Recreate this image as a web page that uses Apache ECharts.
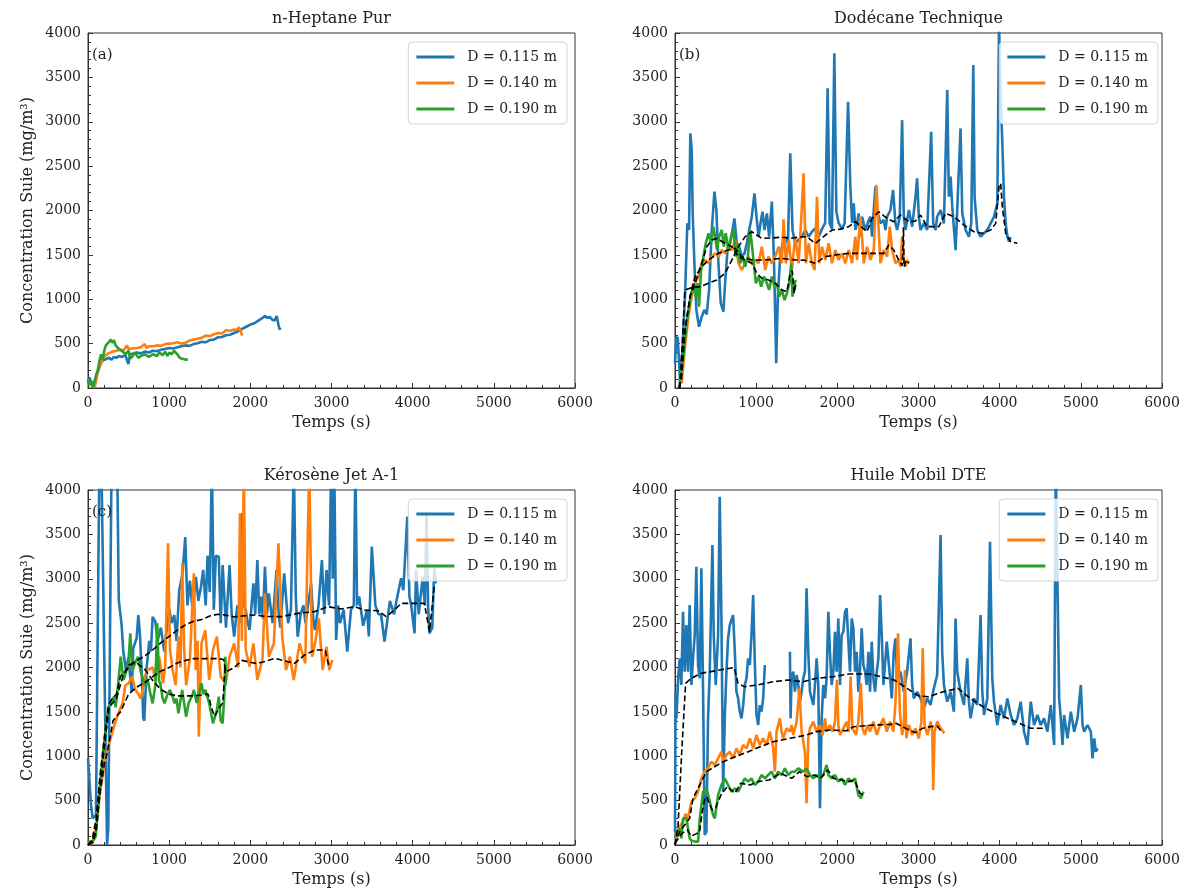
<!DOCTYPE html>
<html><head><meta charset="utf-8">
<script src="https://cdn.jsdelivr.net/npm/echarts@6/dist/echarts.min.js"></script>
<style>html,body{margin:0;padding:0;background:#fff}#c{width:1186px;height:891px}</style>
</head><body><div id="c"></div><script>
// ---------- labels ----------
const TITLES = ['n-Heptane Pur', 'Dodécane Technique', 'Kérosène Jet A-1', 'Huile Mobil DTE'];
const TAGS = ['(a)', '(b)', '(c)', ''];
const NAMES = ['D = 0.115 m', 'D = 0.140 m', 'D = 0.190 m'];
const X_TICKS = [0, 1000, 2000, 3000, 4000, 5000, 6000];
const Y_TICKS = [0, 500, 1000, 1500, 2000, 2500, 3000, 3500, 4000];

// ---------- (a) n-Heptane ----------
const A_115 = [[0,60],[20,120],[40,40],[60,20],[80,60],[100,120],[120,180],[140,230],[160,280],[180,310],[200,300],[230,330],[260,340],[290,320],[320,350],[350,340],[380,360],[420,350],[460,370],[497,270],[520,380],[560,390],[600,400],[650,390],[700,410],[750,400],[800,420],[850,415],[900,430],[950,440],[1000,450],[1050,445],[1100,460],[1150,470],[1200,480],[1250,475],[1300,495],[1350,505],[1400,520],[1450,515],[1500,540],[1550,545],[1600,570],[1650,575],[1700,595],[1750,600],[1800,620],[1850,640],[1900,665],[1950,690],[2000,715],[2050,730],[2100,760],[2150,790],[2180,810],[2210,790],[2240,800],[2270,770],[2300,760],[2325,810],[2345,720],[2360,660],[2370,680]];
const A_140 = [[80,0],[100,80],[120,180],[150,270],[180,330],[200,355],[250,390],[300,410],[350,420],[400,430],[440,425],[480,480],[500,440],[550,445],[600,450],[650,460],[700,495],[720,450],[750,470],[800,470],[850,480],[900,475],[950,495],[1000,500],[1050,505],[1100,515],[1150,500],[1200,510],[1250,535],[1300,545],[1350,555],[1400,565],[1450,590],[1500,585],[1550,605],[1600,620],[1650,615],[1700,650],[1750,645],[1800,660],[1830,650],[1860,685],[1880,640],[1900,590]];
const A_190 = [[0,100],[20,30],[40,80],[60,0],[80,20],[100,150],[120,200],[140,300],[160,380],[180,320],[200,420],[220,480],[240,460],[260,520],[280,545],[300,510],[320,540],[340,480],[360,470],[380,440],[400,420],[430,410],[460,380],[500,420],[520,330],[550,360],[580,400],[620,340],[650,360],[700,380],[750,350],[800,380],[850,360],[880,400],[920,370],[950,410],[980,360],[1000,400],[1030,380],[1060,420],[1100,380],[1130,340],[1160,330],[1200,320],[1230,320]];

// ---------- (b) Dodécane ----------
const B_115 = [[0,278],[15,550],[33,578],[50,300],[62,53],[91,428],[123,1030],[152,1855],[173,1780],[189,2870],[206,2682],[218,1968],[239,1405],[263,879],[296,691],[329,803],[362,879],[391,830],[420,1105],[453,1780],[486,2212],[510,2006],[535,1405],[564,955],[597,861],[617,1180],[650,1592],[679,1630],[708,1780],[732,1911],[761,1630],[790,1592],[823,1480],[856,1517],[885,1630],[914,1780],[946,1930],[979,2193],[1004,1930],[1029,1705],[1053,1855],[1078,1986],[1103,1780],[1132,1968],[1160,1705],[1193,2100],[1218,1480],[1235,803],[1247,278],[1267,1030],[1296,1480],[1325,1630],[1358,1705],[1391,1630],[1420,2644],[1448,1780],[1481,1630],[1523,1668],[1564,1705],[1605,1780],[1646,1705],[1687,1760],[1728,1800],[1770,1705],[1810,1790],[1850,1860],[1881,3377],[1905,1860],[1934,1790],[1963,3771],[1988,1990],[2016,1860],[2058,1790],[2090,1860],[2132,3225],[2160,2269],[2182,1860],[2202,2080],[2222,1780],[2243,1855],[2263,1968],[2284,1705],[2305,1930],[2325,1855],[2346,1780],[2387,1893],[2407,1930],[2428,1705],[2449,2006],[2469,2269],[2490,2006],[2531,1855],[2572,1893],[2593,1780],[2613,1930],[2654,2006],[2687,2231],[2716,1855],[2737,1780],[2769,1930],[2798,3018],[2819,1930],[2840,1780],[2881,2006],[2922,1818],[2963,2156],[2983,2363],[3004,1930],[3025,1780],[3066,1855],[3107,1780],[3156,2888],[3181,1855],[3210,1780],[3230,1930],[3272,2006],[3313,1855],[3354,3357],[3374,2156],[3395,2382],[3416,2043],[3457,1554],[3477,2006],[3518,2925],[3539,1968],[3580,1780],[3621,1705],[3650,1855],[3675,3640],[3691,2156],[3724,1780],[3765,1705],[3807,1743],[3848,1780],[3889,1855],[3930,1930],[3971,2080],[3992,4100],[4012,3283],[4033,2756],[4053,2156],[4074,1855],[4095,1705],[4115,1649],[4135,1700]];
const B_140 = [[82,53],[123,465],[165,803],[206,1030],[247,1180],[288,1255],[329,1405],[370,1442],[412,1405],[453,1480],[494,1517],[535,1480],[576,1555],[617,1517],[658,1592],[700,1555],[741,1668],[782,1405],[823,1330],[864,1405],[905,1480],[946,1405],[988,1442],[1029,1405],[1070,1592],[1111,1330],[1152,1480],[1193,1405],[1235,1480],[1276,1592],[1317,1405],[1337,1900],[1366,1405],[1399,1668],[1440,1330],[1481,1705],[1523,1405],[1555,1900],[1584,2418],[1613,1405],[1646,1630],[1687,1405],[1720,1330],[1749,2155],[1778,1405],[1811,1592],[1852,1442],[1893,1630],[1934,1405],[1975,1555],[2016,1442],[2058,1517],[2099,1405],[2140,1555],[2181,1405],[2222,1705],[2243,1442],[2284,1930],[2305,1705],[2325,1405],[2366,1592],[2407,1442],[2449,1555],[2481,2288],[2510,1780],[2531,1405],[2572,1555],[2613,1480],[2646,1818],[2675,1555],[2716,1405],[2757,1442],[2778,1367],[2798,1705],[2819,1442],[2840,1367],[2860,1442],[2881,1405]];
const B_190 = [[50,0],[62,15],[103,353],[144,728],[185,991],[226,1180],[255,1030],[280,1180],[296,916],[321,1330],[350,1480],[379,1630],[412,1743],[444,1630],[473,1818],[494,1700],[518,1555],[543,1705],[576,1780],[601,1592],[625,1743],[658,1555],[691,1705],[720,1780],[749,1480],[774,1630],[802,1405],[831,1480],[864,1367],[897,1480],[926,1780],[946,1630],[971,1405],[996,1180],[1029,1255],[1062,1142],[1095,1255],[1132,1180],[1160,1105],[1193,1255],[1226,1142],[1255,1180],[1284,1030],[1317,1105],[1350,991],[1379,1067],[1407,1180],[1432,1405],[1448,1030],[1473,1180],[1490,1217]];
const B_115_M = [[60,0],[90,500],[123,1105],[200,1130],[309,1142],[412,1180],[514,1217],[617,1292],[700,1442],[782,1592],[864,1705],[946,1761],[1070,1686],[1193,1690],[1317,1700],[1420,1686],[1523,1700],[1625,1705],[1728,1630],[1831,1705],[1934,1780],[2037,1790],[2140,1818],[2222,1874],[2366,1761],[2428,1911],[2510,1986],[2613,1911],[2695,1874],[2778,1949],[2880,1874],[2960,1880],[3025,1949],[3107,1818],[3251,1818],[3333,1968],[3436,1930],[3560,1836],[3683,1761],[3786,1743],[3889,1780],[3951,1855],[3992,2269],[4012,2306],[4033,2043],[4074,1743],[4136,1649],[4218,1630]];
const B_140_M = [[50,0],[80,100],[123,653],[185,1030],[247,1255],[329,1367],[412,1442],[535,1517],[658,1555],[741,1574],[823,1480],[946,1442],[1111,1442],[1317,1461],[1481,1442],[1600,1440],[1728,1405],[1852,1480],[1975,1499],[2140,1517],[2366,1517],[2572,1517],[2634,1611],[2695,1555],[2757,1442],[2800,1380],[2815,1811],[2822,1367],[2850,1442],[2880,1405]];
const B_190_M = [[50,0],[62,53],[123,653],[185,1030],[247,1180],[329,1405],[391,1592],[453,1668],[514,1686],[617,1630],[700,1592],[782,1480],[864,1442],[946,1405],[1008,1292],[1070,1236],[1152,1217],[1235,1180],[1317,1105],[1379,1086],[1420,1292],[1445,1320],[1469,1067],[1490,1180]];

// ---------- (c) Kérosène ----------
const C_115 = [[0,977],[37,451],[57,300],[98,338],[140,4300],[165,4300],[235,0],[250,200],[290,4300],[360,4300],[379,2760],[394,2740],[414,2480],[435,2180],[468,1960],[497,2110],[538,1730],[558,2220],[599,2330],[620,2590],[640,2370],[661,1960],[681,1430],[693,1400],[722,1990],[755,2300],[775,2180],[796,2570],[829,2520],[857,2300],[898,2450],[939,2180],[960,2350],[1001,2660],[1030,2500],[1063,2590],[1090,2300],[1124,2870],[1165,3060],[1198,3470],[1225,2700],[1255,2980],[1288,2650],[1329,3020],[1360,2750],[1390,2900],[1419,3100],[1450,2700],[1473,3260],[1500,2850],[1526,4300],[1550,2650],[1575,3260],[1611,3249],[1635,2500],[1659,3155],[1700,2450],[1744,3155],[1770,2600],[1801,2347],[1840,2700],[1870,2500],[1896,3737],[1920,2700],[1943,2648],[1970,2500],[1991,2423],[2015,2700],[2038,2948],[2060,2600],[2086,3211],[2110,2600],[2133,2798],[2155,2550],[2180,3136],[2205,2600],[2228,2836],[2275,2500],[2323,3099],[2350,2600],[2370,2450],[2417,3061],[2465,2500],[2500,2650],[2536,4300],[2560,2800],[2583,2347],[2620,2600],[2654,2700],[2680,2500],[2702,2500],[2749,2948],[2775,2550],[2796,2423],[2840,2700],[2882,3211],[2910,2600],[2939,3099],[2970,2700],[2996,4300],[3015,3000],[3034,4300],[3057,2310],[3080,2700],[3105,2500],[3150,2650],[3194,2178],[3240,2650],[3275,2700],[3294,4300],[3315,2700],[3341,2800],[3390,2470],[3437,2650],[3460,2350],[3497,3362],[3540,2700],[3579,2600],[3610,2600],[3653,2291],[3674,2310],[3720,2750],[3770,2600],[3800,2750],[3858,3005],[3885,2870],[3934,3700],[3960,2800],[3982,2700],[4023,2385],[4042,3100],[4075,2600],[4124,3024],[4150,2700],[4171,3737],[4190,2700],[4207,2385],[4242,2450],[4266,3136],[4285,2948]];
const C_140 = [[0,0],[50,20],[100,200],[150,600],[200,900],[261,1145],[332,1371],[380,1500],[427,1596],[460,1800],[498,1822],[545,1897],[580,1750],[616,1709],[650,1650],[673,1747],[700,1900],[735,1972],[800,2000],[830,1850],[877,2122],[924,1822],[950,2000],[986,3400],[1010,2200],[1043,1972],[1080,1800],[1114,2348],[1140,2000],[1161,3174],[1185,2200],[1209,1800],[1256,2100],[1304,3061],[1327,1972],[1350,2300],[1365,1221],[1398,2268],[1445,2418],[1493,1860],[1540,2200],[1588,2348],[1635,1897],[1697,1822],[1745,2122],[1801,2272],[1850,2000],[1872,3737],[1896,2300],[1920,4300],[1943,2200],[1990,2010],[2038,2272],[2086,1860],[2150,2100],[2180,2836],[2228,2122],[2290,2272],[2346,3400],[2393,2348],[2440,1972],[2488,2122],[2535,1860],[2606,2272],[2677,2047],[2726,4300],[2760,2122],[2797,2272],[2844,2554],[2891,1972],[2938,2235],[2973,1972],[3010,2085]];
const C_190 = [[0,50],[50,30],[95,94],[140,600],[190,1070],[230,1400],[261,1559],[290,1620],[322,1671],[340,1550],[370,1800],[403,2122],[436,1859],[470,1950],[498,2050],[521,2385],[545,1960],[580,2050],[616,2122],[650,1950],[673,1934],[700,1800],[735,1860],[770,1700],[796,1596],[830,1800],[853,2498],[875,1850],[891,1822],[920,1650],[943,1596],[980,1700],[1010,1747],[1050,1650],[1067,1596],[1090,1650],[1114,1484],[1160,1747],[1209,1446],[1240,1600],[1256,1596],[1290,1700],[1304,1747],[1340,1600],[1351,1596],[1398,1822],[1420,1700],[1446,1747],[1493,1596],[1540,1371],[1565,1450],[1588,1521],[1611,1671],[1635,1400],[1659,1371],[1680,1700],[1692,2122],[1697,1800]];
const C_115_M = [[0,0],[50,50],[100,300],[150,800],[200,1200],[251,1578],[300,1650],[350,1700],[400,1900],[474,1972],[550,2050],[600,2080],[700,2130],[800,2200],[900,2280],[1000,2350],[1100,2420],[1200,2480],[1300,2520],[1400,2540],[1500,2580],[1600,2600],[1700,2590],[1800,2570],[1900,2580],[2054,2592],[2200,2575],[2382,2573],[2587,2610],[2792,2630],[2956,2685],[3120,2660],[3284,2685],[3407,2648],[3571,2640],[3674,2573],[3776,2648],[3858,2723],[3981,2723],[4145,2723],[4207,2404],[4268,2929]];
const C_140_M = [[0,0],[60,30],[100,200],[150,600],[200,900],[250,1100],[308,1400],[400,1500],[500,1700],[600,1780],[700,1830],[800,1900],[900,1960],[1000,2000],[1100,2050],[1200,2080],[1300,2100],[1400,2100],[1500,2100],[1600,2100],[1670,2090],[1700,1950],[1800,2000],[1900,2080],[2054,2047],[2150,2060],[2300,2103],[2400,2080],[2546,2047],[2669,2141],[2792,2197],[2923,2197],[2964,2028]];
const C_190_M = [[0,0],[60,30],[100,150],[200,1100],[260,1550],[350,1650],[430,1900],[500,2030],[600,2050],[700,1980],[800,1850],[900,1750],[1000,1700],[1100,1680],[1200,1680],[1300,1680],[1400,1690],[1480,1700],[1520,1550],[1560,1450],[1620,1550],[1660,1600],[1690,2000]];

// ---------- (d) Huile Mobil DTE ----------
const D_115 = [[0,150],[5,1300],[8,1727],[18,1427],[40,1900],[58,2103],[78,1803],[99,2628],[119,1953],[140,2478],[160,1953],[181,2703],[202,1803],[222,2103],[243,2366],[263,3136],[284,2028],[305,1878],[325,3118],[346,1727],[366,113],[387,150],[407,1427],[428,1953],[461,3380],[477,2366],[502,1803],[531,2366],[551,3925],[572,2553],[593,601],[613,1427],[634,1953],[654,2328],[675,2478],[695,2535],[716,2591],[737,2178],[757,1727],[778,1652],[798,1502],[819,1427],[840,1577],[860,1803],[881,1878],[901,2103],[922,2028],[942,2366],[963,2817],[984,2028],[1004,1465],[1025,1352],[1045,1577],[1066,1502],[1086,1652],[1107,2028],[1260,null],[1416,2178],[1424,1427],[1436,1878],[1457,1953],[1477,1727],[1498,1915],[1519,1803],[1539,1615],[1560,1727],[1580,1878],[1601,1953],[1621,2892],[1642,2178],[1663,1727],[1683,1652],[1704,1577],[1724,1803],[1745,2103],[1765,1803],[1786,413],[1807,1427],[1827,1803],[1848,1652],[1868,1878],[1889,2628],[1909,2178],[1930,1803],[1951,1953],[1971,2403],[1992,1953],[2012,2553],[2033,1803],[2053,2366],[2074,2403],[2095,2628],[2115,2666],[2136,2291],[2156,1953],[2177,2553],[2198,2441],[2218,1953],[2239,2178],[2259,1727],[2280,1991],[2300,2441],[2321,2028],[2342,1953],[2362,1803],[2383,2178],[2403,1727],[2424,2291],[2444,1878],[2465,1727],[2486,1953],[2506,2103],[2527,2817],[2547,2366],[2568,1803],[2609,2291],[2650,1878],[2671,1652],[2695,2178],[2716,2328],[2737,1878],[2778,1953],[2819,1727],[2860,1953],[2901,2328],[2922,1803],[2942,1652],[2984,1727],[3025,1652],[3066,1540],[3107,1652],[3148,1577],[3189,1765],[3230,1915],[3272,3493],[3292,2178],[3313,1803],[3354,1615],[3395,1727],[3436,1502],[3457,2553],[3477,1953],[3519,1727],[3560,1577],[3601,2103],[3621,1615],[3642,1427],[3683,1652],[3724,1577],[3765,2591],[3786,1727],[3807,1465],[3848,1652],[3881,3418],[3909,1878],[3930,1615],[3971,1352],[4012,1577],[4053,1427],[4095,1652],[4136,1465],[4177,1352],[4218,1427],[4259,1615],[4300,1277],[4342,1127],[4383,1615],[4424,1352],[4465,1465],[4506,1352],[4547,1427],[4588,1277],[4630,1577],[4671,1127],[4691,4300],[4704,4300],[4733,1652],[4753,1427],[4774,1127],[4794,1465],[4835,1202],[4877,1502],[4918,1277],[4959,1427],[5000,1803],[5021,1352],[5041,1277],[5082,1352],[5123,1277],[5144,976],[5165,1202],[5185,1051],[5206,1089]];
const D_140 = [[0,100],[16,75],[50,200],[99,263],[130,350],[160,300],[202,488],[243,526],[284,601],[325,751],[366,826],[407,864],[448,939],[490,901],[531,976],[572,1051],[593,939],[634,1014],[675,1051],[716,976],[757,1089],[798,1014],[840,1127],[881,1089],[922,1202],[963,1089],[1004,1240],[1045,1127],[1086,1202],[1127,1127],[1169,1277],[1210,1089],[1230,826],[1251,1277],[1292,1427],[1313,1277],[1333,1202],[1374,1315],[1416,1277],[1436,1352],[1457,1240],[1498,1390],[1533,1765],[1560,1277],[1601,1051],[1621,469],[1642,1202],[1663,1315],[1704,1390],[1745,1277],[1786,1352],[1819,1240],[1848,1427],[1868,1277],[1909,1352],[1942,1277],[1971,1390],[1995,1860],[2012,1352],[2033,1240],[2074,1315],[2115,1390],[2140,1277],[2164,1897],[2185,1315],[2230,1240],[2259,1390],[2290,1822],[2310,1315],[2340,1240],[2370,1352],[2403,1277],[2444,1390],[2486,1240],[2527,1352],[2568,1427],[2609,1277],[2650,1390],[2691,1277],[2716,1600],[2748,2385],[2770,1500],[2798,1240],[2819,1352],[2832,1972],[2850,1202],[2880,1352],[2922,1240],[2963,1315],[3004,1202],[3035,1390],[3052,2216],[3075,1352],[3110,1240],[3150,1390],[3170,1277],[3181,620],[3197,1277],[3230,1390],[3272,1315],[3318,1258]];
const D_190 = [[0,75],[25,150],[57,188],[78,75],[99,300],[140,300],[181,75],[202,50],[243,38],[284,38],[305,300],[346,601],[387,638],[428,488],[469,338],[490,300],[531,563],[572,676],[613,751],[654,676],[695,601],[737,638],[778,601],[819,676],[860,751],[901,714],[942,751],[984,676],[1025,714],[1066,789],[1107,751],[1148,789],[1189,826],[1230,751],[1271,826],[1313,789],[1354,864],[1395,789],[1436,826],[1477,826],[1518,864],[1539,883],[1580,826],[1621,864],[1663,789],[1704,751],[1745,789],[1786,751],[1827,789],[1868,901],[1889,789],[1930,751],[1971,789],[2012,714],[2053,751],[2095,676],[2136,751],[2177,714],[2218,751],[2259,563],[2290,526],[2322,601]];
const D_115_M = [[0,0],[37,207],[84,1070],[131,1822],[200,1878],[318,1934],[505,1964],[729,2000],[776,1822],[855,1784],[1019,1803],[1206,1840],[1393,1859],[1579,1840],[1743,1878],[1953,1897],[2140,1927],[2397,1927],[2701,1859],[2888,1747],[3000,1680],[3122,1671],[3308,1728],[3486,1765],[3636,1653],[3823,1540],[4009,1465],[4196,1390],[4383,1315],[4547,1315]];
const D_140_M = [[0,0],[58,150],[181,300],[222,526],[387,826],[593,939],[798,1014],[1004,1089],[1210,1164],[1416,1202],[1621,1240],[1745,1277],[1909,1296],[2115,1287],[2198,1333],[2444,1352],[2650,1359],[2724,1371],[2841,1315],[2958,1266],[3052,1315],[3145,1334],[3230,1340],[3285,1277]];
const D_190_M = [[0,19],[84,131],[154,169],[200,100],[271,131],[300,140],[340,400],[364,507],[388,545],[458,394],[500,420],[575,582],[645,657],[738,582],[808,695],[925,676],[1019,714],[1159,732],[1299,808],[1439,751],[1533,826],[1626,770],[1720,789],[1790,751],[1883,845],[1953,751],[2047,732],[2140,714],[2210,732],[2280,582],[2320,560]];

// ---------- build ----------
const COLORS = ['#1f77b4', '#ff7f0e', '#2ca02c'];
const FONT = '"DejaVu Serif", serif';
const PANELS = [
  { left: 88, top: 33, lines: [A_115, A_140, A_190], avgs: [], ylab: true },
  { left: 675, top: 33, lines: [B_115, B_140, B_190], avgs: [B_115_M, B_140_M, B_190_M], ylab: false },
  { left: 88, top: 490, lines: [C_115, C_140, C_190], avgs: [C_115_M, C_140_M, C_190_M], ylab: true },
  { left: 675, top: 490, lines: [D_115, D_140, D_190], avgs: [D_115_M, D_140_M, D_190_M], ylab: false }
];
const W = 487, H = 355;

const grid = [], xAxis = [], yAxis = [], series = [], legend = [], graphic = [];
PANELS.forEach((p, i) => {
  grid.push({ left: p.left, top: p.top, width: W, height: H, show: true, borderColor: '#333', borderWidth: 1, backgroundColor: 'transparent' });
  const common = {
    gridIndex: i, type: 'value',
    axisLine: { show: true, onZero: false, lineStyle: { color: '#333', width: 1 } },
    axisTick: { show: true, inside: true, length: 5, lineStyle: { color: '#333' } },
    minorTick: { show: true, splitNumber: 5, length: 3, lineStyle: { color: '#333' } },
    splitLine: { show: false }, minorSplitLine: { show: false },
    axisLabel: { fontFamily: FONT, fontSize: 14, color: '#222', formatter: v => String(v) }
  };
  xAxis.push(Object.assign({}, common, {
    min: X_TICKS[0], max: X_TICKS[X_TICKS.length - 1], interval: X_TICKS[1] - X_TICKS[0],
    axisLabel: Object.assign({}, common.axisLabel, { margin: 8 }),
    name: 'Temps (s)', nameLocation: 'middle', nameGap: 27,
    nameTextStyle: { fontFamily: FONT, fontSize: 16, color: '#222' }
  }));
  yAxis.push(Object.assign({}, common, {
    min: Y_TICKS[0], max: Y_TICKS[Y_TICKS.length - 1], interval: Y_TICKS[1] - Y_TICKS[0],
    axisLabel: Object.assign({}, common.axisLabel, { margin: 7 }),
    name: p.ylab ? 'Concentration Suie (mg/m³)' : '', nameLocation: 'middle', nameGap: 52,
    nameTextStyle: { fontFamily: FONT, fontSize: 16, color: '#222' }
  }));
  p.lines.forEach((d, k) => {
    series.push({
      type: 'line', name: NAMES[k], xAxisIndex: i, yAxisIndex: i, data: d,
      showSymbol: false, symbol: 'none', color: COLORS[k], connectNulls: false,
      lineStyle: { color: COLORS[k], width: 2.6 }, z: 2, animation: false, clip: true
    });
  });
  p.avgs.forEach((d, k) => {
    series.push({
      type: 'line', name: 'moyenne ' + NAMES[k] + ' ' + i, xAxisIndex: i, yAxisIndex: i, data: d,
      showSymbol: false, symbol: 'none', color: '#000',
      lineStyle: { color: '#000', width: 1.6, type: [6, 3] }, z: 3, animation: false, clip: true
    });
  });
  legend.push({
    data: NAMES.map(n => ({ name: n })), orient: 'vertical',
    right: i % 2 === 0 ? 619 : 28, top: p.top + 9,
    icon: 'rect', itemWidth: 38, itemHeight: 3, itemGap: 8,
    padding: [6, 10, 6, 8], selectedMode: false,
    backgroundColor: 'rgba(255,255,255,0.8)', borderColor: '#d5d5d5', borderWidth: 1, borderRadius: 4,
    textStyle: { fontFamily: FONT, fontSize: 14, color: '#222', lineHeight: 18, padding: [0, 0, 0, 8] }
  });
  graphic.push({
    type: 'text', x: p.left + W / 2, y: p.top - 14, silent: true,
    style: { text: TITLES[i], fill: '#222', font: '16px ' + FONT, align: 'center', verticalAlign: 'middle' }
  });
  if (TAGS[i]) graphic.push({
    type: 'text', x: p.left + 4, y: p.top + 22, silent: true, z: 10,
    style: { text: TAGS[i], fill: '#222', font: '15px ' + FONT, align: 'left', verticalAlign: 'middle' }
  });
});

const chart = echarts.init(document.getElementById('c'), null, { renderer: 'canvas' });
chart.setOption({ animation: false, backgroundColor: '#fff', grid, xAxis, yAxis, series, legend, graphic });
</script></body></html>
